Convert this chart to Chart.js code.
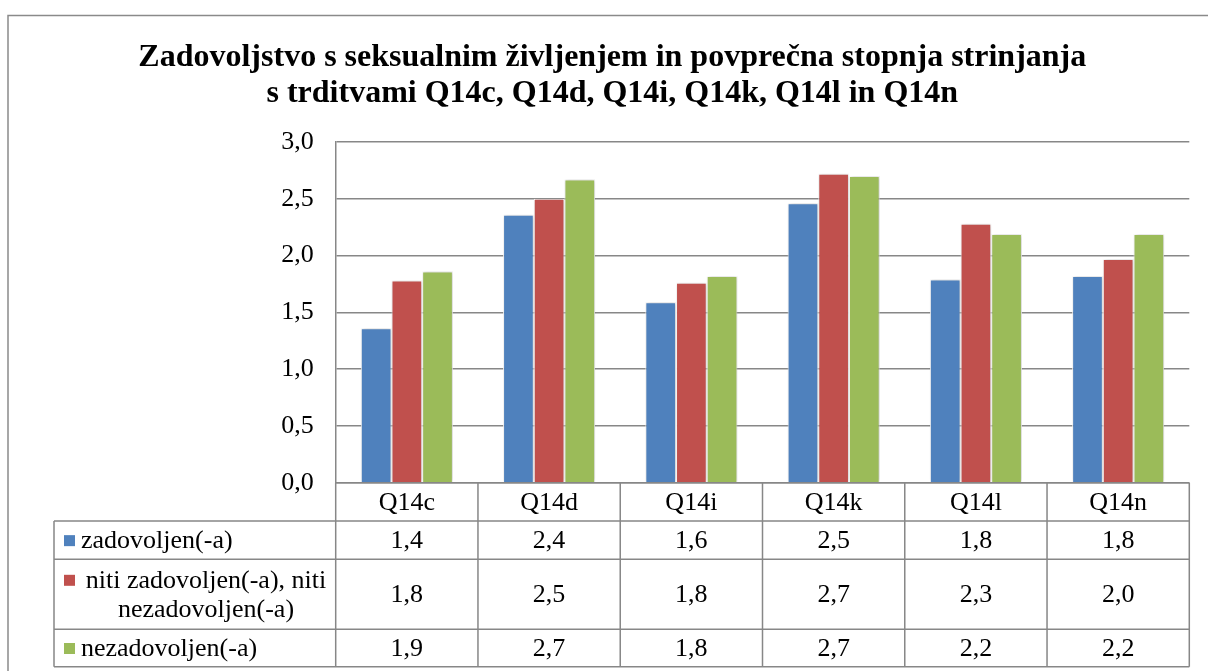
<!DOCTYPE html>
<html>
<head>
<meta charset="utf-8">
<script src="https://cdn.jsdelivr.net/npm/chart.js@4.4.1/dist/chart.umd.min.js"></script>
<style>
  html, body { margin: 0; padding: 0; background: #ffffff; }
  #wrap { width: 1208px; height: 671px; position: relative; }
  canvas { display: block; }
  .pre { font-family: "Liberation Serif"; position: absolute; left: -9999px; top: 0; }
</style>
</head>
<body>
<span class="pre">Aa<b>Bb</b></span>
<div id="wrap"><canvas id="c" width="1208" height="671"></canvas></div>
<script>
// ---- data ----
const categories = ['Q14c', 'Q14d', 'Q14i', 'Q14k', 'Q14l', 'Q14n'];
const seriesNames = ['zadovoljen(-a)', 'niti zadovoljen(-a), niti nezadovoljen(-a)', 'nezadovoljen(-a)'];
const seriesLegendLines = [['zadovoljen(-a)'], ['niti zadovoljen(-a), niti', 'nezadovoljen(-a)'], ['nezadovoljen(-a)']];
const zadovoljen = [1.36, 2.36, 1.59, 2.46, 1.79, 1.82];
const nitiNiti = [1.78, 2.50, 1.76, 2.72, 2.28, 1.97];
const nezadovoljen = [1.86, 2.67, 1.82, 2.70, 2.19, 2.19];
const titleLines = ['Zadovoljstvo s seksualnim življenjem in povprečna stopnja strinjanja', 's trditvami Q14c, Q14d, Q14i, Q14k, Q14l in Q14n'];
const yMin = 0, yMax = 3, yStep = 0.5;

const seriesValues = [zadovoljen, nitiNiti, nezadovoljen];
const seriesColors = ['#4F81BD', '#C0504D', '#9BBB59'];
const FONT = "'Liberation Serif', 'Times New Roman', Times, serif";
const fmt = v => v.toFixed(1).replace('.', ',');

const GRID = '#878787';

const frame = {
  id: 'frame',
  beforeDraw(chart) {
    const ctx = chart.ctx;
    ctx.save();
    ctx.fillStyle = '#ffffff';
    ctx.fillRect(0, 0, chart.width, chart.height);
    ctx.strokeStyle = '#8a8a8a';
    ctx.lineWidth = 1.5;
    ctx.strokeRect(8, 15.5, 1240, 700);
    ctx.restore();
  },
  beforeDatasetsDraw(chart) {
    const ctx = chart.ctx;
    ctx.save();
    ctx.shadowColor = 'rgba(0,0,0,0.22)';
    ctx.shadowBlur = 4;
    ctx.shadowOffsetX = 1;
    ctx.shadowOffsetY = 0;
  },
  afterDatasetsDraw(chart) {
    chart.ctx.restore();
  }
};

const dataTable = {
  id: 'dataTable',
  afterDraw(chart) {
    const ctx = chart.ctx;
    const x = chart.scales.x;
    const area = chart.chartArea;
    const left = area.left, right = area.right;
    const tableLeft = 54;
    const n = categories.length;
    const cw = (right - left) / n;
    const rowY = [area.bottom, 521, 559.3, 629.3, 666.7];
    ctx.save();
    ctx.strokeStyle = GRID;
    ctx.lineWidth = 1.5;
    ctx.beginPath();
    ctx.moveTo(left, rowY[0]); ctx.lineTo(right, rowY[0]);
    for (let i = 1; i < rowY.length; i++) {
      ctx.moveTo(tableLeft, rowY[i]); ctx.lineTo(right, rowY[i]);
    }
    ctx.moveTo(tableLeft, rowY[1]); ctx.lineTo(tableLeft, rowY[4]);
    for (let i = 0; i <= n; i++) {
      const xx = left + i * cw;
      ctx.moveTo(xx, rowY[0]); ctx.lineTo(xx, rowY[4]);
    }
    ctx.stroke();

    ctx.fillStyle = '#000';
    ctx.font = '26px ' + FONT;
    ctx.textAlign = 'center';
    ctx.textBaseline = 'middle';
    categories.forEach((c, i) => {
      ctx.fillText(c, x.getPixelForValue(i), (rowY[0] + rowY[1]) / 2 + 1);
    });
    seriesValues.forEach((vals, r) => {
      const yc = (rowY[r + 1] + rowY[r + 2]) / 2 + 1;
      vals.forEach((v, i) => {
        ctx.fillText(fmt(v), x.getPixelForValue(i), yc);
      });
      const lines = seriesLegendLines[r];
      const lh = 29;
      const y0 = yc - (lines.length - 1) * lh / 2;
      ctx.fillStyle = seriesColors[r];
      ctx.fillRect(64, y0 - 6, 11, 11);
      ctx.fillStyle = '#000';
      if (lines.length === 1) {
        ctx.textAlign = 'left';
        ctx.fillText(lines[0], 81, y0);
      } else {
        ctx.textAlign = 'center';
        const cx = 206;
        lines.forEach((ln, k) => ctx.fillText(ln, cx, y0 + k * lh));
      }
      ctx.textAlign = 'center';
    });
    ctx.restore();
  }
};

function build() {
  new Chart(document.getElementById('c'), {
    type: 'bar',
    data: {
      labels: categories,
      datasets: seriesNames.map((name, i) => ({
        label: name,
        data: seriesValues[i],
        backgroundColor: seriesColors[i],
        borderColor: '#ffffff',
        borderWidth: 1,
        categoryPercentage: 0.647,
        barPercentage: 1.0
      }))
    },
    options: {
      responsive: false,
      animation: false,
      devicePixelRatio: 1,
      layout: { padding: { left: 35.3, right: 18.7, top: 20, bottom: 188.3 } },
      plugins: {
        legend: { display: false },
        tooltip: { enabled: false },
        title: {
          display: true,
          text: titleLines,
          color: '#000',
          font: { family: FONT, size: 32, weight: 'bold', lineHeight: 1.125 },
          padding: { top: 20, bottom: 30 }
        }
      },
      scales: {
        x: { display: false, grid: { display: false } },
        y: {
          min: yMin, max: yMax,
          afterFit(s) { s.width = 300.4; },
          ticks: {
            stepSize: yStep,
            color: '#000',
            padding: 22,
            font: { family: FONT, size: 26 },
            callback: v => fmt(v)
          },
          grid: { color: GRID, lineWidth: 1.5, drawTicks: false },
          border: { display: true, color: GRID, width: 1.5 }
        }
      }
    },
    plugins: [frame, dataTable]
  });
}

Promise.all([
  document.fonts.load("26px 'Liberation Serif'"),
  document.fonts.load("bold 32px 'Liberation Serif'")
]).then(build, build);
</script>
</body>
</html>
